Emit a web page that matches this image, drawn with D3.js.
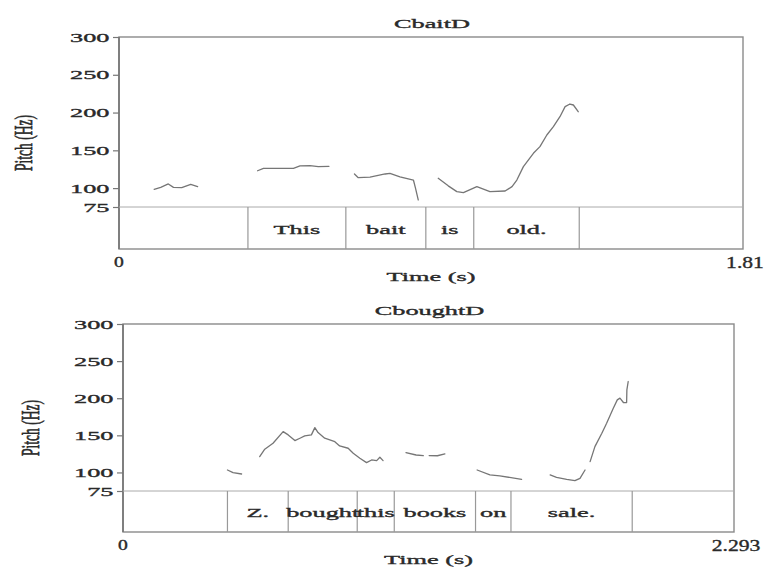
<!DOCTYPE html>
<html>
<head>
<meta charset="utf-8">
<script src="https://cdn.jsdelivr.net/npm/d3@7"></script>
<style>
  html, body { margin: 0; padding: 0; background: #fff; }
  svg { display: block; }
  text { font-family: "Liberation Serif", "DejaVu Serif", serif; fill: #2a2a2a; stroke: #2a2a2a; stroke-width: 0.35px; }
</style>
</head>
<body>
<svg id="chart" width="764" height="569"></svg>
<script>
// ---------- data ----------
const pitchTicks = [75, 100, 150, 200, 250, 300];
const pitchDomain = [75, 300];

// Panel 1: CbaitD
const baitTitle = "CbaitD";
const baitDuration = 1.81;
const baitDurationLabel = "1.81";
const baitBounds = [0.374, 0.658, 0.890, 1.029, 1.335];
const baitWords = ["This", "bait", "is", "old."];
const baitSeg1 = [[0.102,98.4],[0.121,101],[0.143,105.5],[0.158,101],[0.182,100.6],[0.208,105],[0.228,101.9]];
const baitSeg2 = [[0.402,123],[0.419,126.2],[0.506,126.2],[0.525,129.3],[0.554,129.7],[0.578,128.4],[0.609,128.9]];
const baitSeg3 = [[0.683,118.7],[0.694,113.8],[0.728,114.5],[0.772,118.7],[0.786,119.6],[0.815,115],[0.854,110.7],[0.860,100],[0.868,84.3]];
const baitSeg4 = [[0.926,113],[0.955,103],[0.980,95.3],[0.999,94],[1.038,102],[1.076,95.3],[1.120,96.2],[1.140,102],[1.154,110.7],[1.173,128.4],[1.202,146.1],[1.221,154.9],[1.241,170.3],[1.260,181.3],[1.279,194.5],[1.294,207.8],[1.308,211.3],[1.318,210],[1.332,201.1]];

// Panel 2: CboughtD
const boughtTitle = "CboughtD";
const boughtDuration = 2.293;
const boughtDurationLabel = "2.293";
const boughtBounds = [0.392, 0.620, 0.879, 1.018, 1.323, 1.456, 1.911];
const boughtWords = ["Z.", "bought", "this", "books", "on", "sale."];
const boughtSegA = [[0.392,103.3],[0.413,99.7],[0.445,97.9]];
const boughtSegB = [[0.513,121.3],[0.532,131.3],[0.563,139.4],[0.601,155],[0.620,150.6],[0.645,142.9],[0.664,146.1],[0.682,149.2],[0.707,150.6],[0.720,160.4],[0.732,153.7],[0.757,146.1],[0.795,141.5],[0.813,135.7],[0.845,132.6],[0.864,125.9],[0.889,119.1],[0.914,113.2],[0.933,116.8],[0.952,115.9],[0.964,120.5],[0.976,115.9]];
const boughtSegC1 = [[1.062,126.7],[1.100,123.5],[1.127,122.7]];
const boughtSegC2 = [[1.149,122.7],[1.180,122.5],[1.208,124.9]];
const boughtSegD = [[1.329,103.3],[1.377,96.6],[1.414,95.3],[1.496,90.8]];
const boughtSegE1 = [[1.603,96.6],[1.627,93.5],[1.665,90.8],[1.696,88.9],[1.715,92.1],[1.734,103.3]];
const boughtSegE2 = [[1.753,114.6],[1.771,134.8],[1.797,152.9],[1.815,166.4],[1.840,186.6],[1.855,197.8],[1.865,200.1],[1.878,194.2],[1.890,194.2],[1.891,211.3],[1.896,222.5]];

// ---------- drawing ----------
const svg = d3.select("#chart");
const SX = 1.95;          // horizontal stretch of the lettering
const FS = 13.5;

function label(g, x, y, str, opts = {}) {
  const sx = opts.sx || SX;
  return g.append("text")
    .attr("transform", `translate(${x},${y}) scale(${sx},1)` + (opts.rotate ? ` rotate(${opts.rotate})` : ""))
    .attr("text-anchor", opts.anchor || "middle")
    .attr("dominant-baseline", opts.baseline || "auto")
    .style("font-size", (opts.size || FS) + "px")
    .text(str);
}

function panel(cfg) {
  const g = svg.append("g");
  const x = d3.scaleLinear().domain([0, cfg.duration]).range([cfg.left, cfg.right]);
  const y = d3.scaleLinear().domain(pitchDomain).range([cfg.line75, cfg.top]);

  // frame
  g.append("rect")
    .attr("x", cfg.left).attr("y", cfg.top)
    .attr("width", cfg.right - cfg.left).attr("height", cfg.bottom - cfg.top)
    .attr("fill", "none").attr("stroke", "#8a8a8a").attr("stroke-width", 1.4);
  g.append("line").attr("x1", cfg.left).attr("x2", cfg.left)
    .attr("y1", cfg.top).attr("y2", cfg.bottom)
    .attr("stroke", "#7a7a7a").attr("stroke-width", 1.8);

  // tier separator (75 Hz line)
  g.append("line").attr("x1", cfg.left).attr("x2", cfg.right)
    .attr("y1", y(75)).attr("y2", y(75))
    .attr("stroke", "#aaa").attr("stroke-width", 1);

  // y axis via d3 (tick marks), stretched labels drawn separately
  const yAxis = d3.axisLeft(y).tickValues(pitchTicks).tickSize(6).tickPadding(3).tickFormat(d3.format("d"));
  const ax = g.append("g").attr("transform", `translate(${cfg.left},0)`).call(yAxis);
  ax.select(".domain").remove();
  ax.selectAll(".tick line").attr("stroke", "#777").attr("stroke-width", 1.2);
  ax.selectAll(".tick text").remove();
  pitchTicks.forEach(v => {
    label(g, cfg.left - 9.5, y(v), String(v), { anchor: "end", baseline: "central" });
  });

  // tier boundaries & words
  cfg.bounds.forEach(b => {
    g.append("line").attr("x1", x(b)).attr("x2", x(b))
      .attr("y1", y(75)).attr("y2", cfg.bottom)
      .attr("stroke", "#999").attr("stroke-width", 1.2);
  });
  const tierMid = (y(75) + cfg.bottom) / 2;
  cfg.words.forEach((w, i) => {
    const xm = (x(cfg.bounds[i]) + x(cfg.bounds[i + 1])) / 2;
    label(g, xm, tierMid + 1, w, { baseline: "central" });
  });

  // pitch contour
  const line = d3.line().x(d => x(d[0])).y(d => y(d[1])).curve(d3.curveLinear);
  cfg.segments.forEach(seg => {
    g.append("path").attr("d", line(seg))
      .attr("fill", "none").attr("stroke", "#767676").attr("stroke-width", 1.3)
      .attr("stroke-linejoin", "round").attr("stroke-linecap", "round");
  });

  // titles & labels
  const cx = (cfg.left + cfg.right) / 2;
  label(g, cx + 1, cfg.top - 9, cfg.title);
  label(g, x(0), cfg.bottom + 18, "0", { sx: 1.4, size: 14 });
  label(g, x(cfg.duration) + 2, cfg.bottom + 19, cfg.durationLabel, { sx: 1.35, size: 16 });
  label(g, cx, cfg.bottom + 32, "Time (s)");
  label(g, cfg.yLabelX, (cfg.top + cfg.bottom) / 2, "Pitch (Hz)", { rotate: -90, baseline: "central", sx: 1.9, size: 13.5 });
}

panel({
  title: baitTitle, duration: baitDuration, durationLabel: baitDurationLabel,
  bounds: baitBounds, words: baitWords,
  segments: [baitSeg1, baitSeg2, baitSeg3, baitSeg4],
  left: 119, right: 743, top: 37, line75: 207, bottom: 249, yLabelX: 23
});
panel({
  title: boughtTitle, duration: boughtDuration, durationLabel: boughtDurationLabel,
  bounds: boughtBounds, words: boughtWords,
  segments: [boughtSegA, boughtSegB, boughtSegC1, boughtSegC2, boughtSegD, boughtSegE1, boughtSegE2],
  left: 123, right: 734, top: 324, line75: 491, bottom: 532, yLabelX: 30
});
</script>
</body>
</html>
